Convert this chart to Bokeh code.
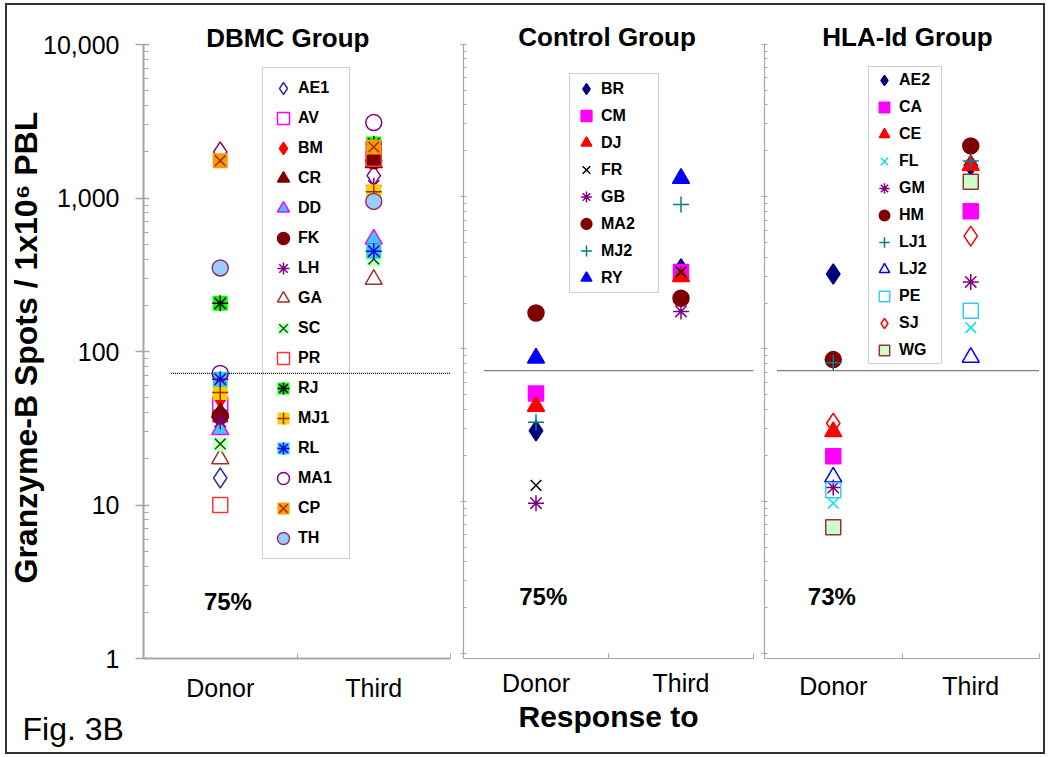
import math
from bokeh.plotting import figure
from bokeh.models import Range1d, FixedTicker, NumeralTickFormatter, Label, Legend, LegendItem, Title
from bokeh.layouts import row
from bokeh.embed import file_html
from bokeh.resources import INLINE

# ---------------- data ----------------
categories = ["Donor", "Third"]
threshold = 72
y_ticks = [1, 10, 100, 1000, 10000]
group_titles = ["DBMC Group", "Control Group", "HLA-Id Group"]
percent_labels = ["75%", "75%", "73%"]

dbmc_names = ["AE1", "AV", "BM", "CR", "DD", "FK", "LH", "GA", "SC", "PR", "RJ", "MJ1", "RL", "MA1", "CP", "TH"]
dbmc_donor = [15, 45, 50, 40, 31, 38, 35, 20, 25, 10, 206, 54, 66, 72, 1750, 350]
dbmc_third = [2150, 2100, 1850, 1700, 540, 1750, 1200, 295, 400, 1800, 2250, 1100, 450, 3100, 2150, 950]
# purple open-diamond series without a legend entry
dbmc_unlabeled_donor = 2000
dbmc_unlabeled_third = 1400

control_names = ["BR", "CM", "DJ", "FR", "GB", "MA2", "MJ2", "RY"]
control_donor = [29, 51, 42, 12.7, 9.7, 172, 33, 87]
control_third = [335, 320, 298, 320, 176, 215, 885, 1315]

hla_names = ["AE2", "CA", "CE", "FL", "GM", "HM", "LJ1", "LJ2", "PE", "SJ", "WG"]
hla_donor = [310, 19.7, 28.6, 9.7, 12.3, 85, 81, 14.4, 11.8, 32.5, 6.75]
hla_third = [1600, 800, 1600, 138, 275, 2150, 1710, 88, 178, 550, 1250]

# ---------------- styles ----------------
FONT = "Liberation Sans"
NONE = None
STYLE = {
    "AE1": [("diamond", NONE, "#333399")],
    "AV": [("square", NONE, "#ff00ff")],
    "BM": [("diamond", "#ff0000", "#ff0000")],
    "CR": [("triangle", "#800000", "#800000")],
    "DD": [("triangle", "#33ccff", "#ff00ff")],
    "FK": [("circle", "#800000", "#800000")],
    "LH": [("asterisk", NONE, "#800080")],
    "GA": [("triangle", NONE, "#993333")],
    "SC": [("square", "#ccffcc", NONE), ("x", NONE, "#006600")],
    "PR": [("square", NONE, "#ff3333")],
    "RJ": [("square", "#00ff00", NONE), ("asterisk", NONE, "#000000")],
    "MJ1": [("square", "#ffcc00", NONE), ("cross", NONE, "#993300")],
    "RL": [("square", "#33cccc", NONE), ("asterisk", NONE, "#0000ff")],
    "MA1": [("circle", NONE, "#800080")],
    "CP": [("square", "#ff9900", NONE), ("x", NONE, "#993300")],
    "TH": [("circle", "#99ccff", "#993366")],
    "_unlabeled": [("diamond", NONE, "#800080")],
    "BR": [("diamond", "#000080", "#000080")],
    "CM": [("square", "#ff00ff", "#ff00ff")],
    "DJ": [("triangle", "#ff0000", "#ff0000")],
    "FR": [("x", NONE, "#000000")],
    "GB": [("asterisk", NONE, "#800080")],
    "MA2": [("circle", "#800000", "#800000")],
    "MJ2": [("cross", NONE, "#008080")],
    "RY": [("triangle", "#0000ff", "#0000ff")],
    "AE2": [("diamond", "#000080", "#000080")],
    "CA": [("square", "#ff00ff", "#ff00ff")],
    "CE": [("triangle", "#ff0000", "#ff0000")],
    "FL": [("x", NONE, "#00e5ee")],
    "GM": [("asterisk", NONE, "#800080")],
    "HM": [("circle", "#800000", "#800000")],
    "LJ1": [("cross", NONE, "#008080")],
    "LJ2": [("triangle", NONE, "#0000ff")],
    "PE": [("square", NONE, "#33ccff")],
    "SJ": [("diamond", NONE, "#ff0000")],
    "WG": [("square", "#ccffcc", "#993333")],
}
SIZES = {"diamond": 20, "square": 15, "triangle": 17, "circle": 16, "x": 15, "asterisk": 16, "cross": 16}

# ---------------- layout helpers ----------------
H = 747
PX_DEC = 153.5          # pixels per decade
REF_ONE = 658           # reference row of value 1
REF_TOP = 5             # reference row of the frame top


def level(ref_row):
    return 10 ** ((REF_ONE - ref_row) / PX_DEC)


Y_TOP = level(REF_TOP)
xpos = [i + 0.5 for i in range(len(categories))]


def make_panel(width, bl, br, bb, y_start, labelled):
    p = figure(width=width, height=H, x_range=Range1d(0, len(categories)),
               y_range=Range1d(y_start, Y_TOP), y_axis_type="log",
               output_backend="svg", toolbar_location=None,
               min_border_left=bl, min_border_right=br, min_border_top=0, min_border_bottom=bb,
               background_fill_color="white", border_fill_color="white")
    p.outline_line_color = None
    p.xgrid.visible = False
    p.ygrid.visible = False
    ya = p.yaxis[0]
    ya.ticker = FixedTicker(ticks=y_ticks,
                            minor_ticks=[m * 10 ** k for k in range(4) for m in range(2, 10)])
    ya.bounds = (y_start, 10000)
    ya.axis_line_color = "#a6a6a6"
    ya.major_tick_line_color = "#a6a6a6"
    ya.minor_tick_line_color = "#a6a6a6"
    if labelled:
        ya.formatter = NumeralTickFormatter(format="0,0")
        ya.axis_line_width = 2
        ya.major_tick_line_width = 1.5
        ya.major_tick_out = 8
        ya.major_tick_in = 6
        ya.minor_tick_in = 5
        ya.minor_tick_out = 0
        ya.major_label_standoff = 16
        ya.major_label_text_font = FONT
        ya.major_label_text_font_size = "25px"
        ya.major_label_text_color = "black"
    else:
        ya.axis_line_width = 1.2
        ya.major_tick_out = 3
        ya.major_tick_in = 3
        ya.minor_tick_in = 3
        ya.minor_tick_out = 0
        ya.major_label_standoff = 0
        ya.major_label_overrides = {t: "" for t in y_ticks}
    xa = p.xaxis[0]
    xa.ticker = FixedTicker(ticks=xpos, minor_ticks=list(range(len(categories) + 1)))
    xa.major_label_overrides = {x: c for x, c in zip(xpos, categories)}
    xa.bounds = (0, len(categories))
    xa.axis_line_color = "#a6a6a6"
    xa.axis_line_width = 2 if labelled else 1.2
    xa.major_tick_in = 0
    xa.major_tick_out = 0
    xa.minor_tick_in = 5
    xa.minor_tick_out = 0
    xa.minor_tick_line_color = "#a6a6a6"
    xa.major_label_text_font = FONT
    xa.major_label_text_font_size = "25px"
    xa.major_label_text_color = "black"
    return p


def add_series(p, name, donor, third):
    rs = []
    for marker, fill, line in STYLE[name]:
        kw = dict(size=SIZES[marker], line_width=1.5)
        if fill is None:
            kw["fill_alpha"] = 0
            kw["fill_color"] = "white"
        else:
            kw["fill_color"] = fill
        if line is None:
            kw["line_alpha"] = 0
            kw["line_color"] = fill
        else:
            kw["line_color"] = line
        rs.append(p.scatter(x=xpos, y=[donor, third], marker=marker, **kw))
    return rs


def add_group(p, names, donor, third, legend_cfg, title, title_x, pct, pct_x, thr_x0):
    p.segment(x0=[thr_x0], y0=[threshold], x1=[len(categories)], y1=[threshold],
              line_color="black", line_width=1.4, line_dash="1 1")
    items = []
    for n, d, t in zip(names, donor, third):
        items.append(LegendItem(label=n, renderers=add_series(p, n, d, t)))
    loc, gh, sp, pad, lw = legend_cfg
    leg = Legend(items=items, location=loc, orientation="vertical",
                 label_text_font=FONT, label_text_font_style="bold", label_text_font_size="16px",
                 label_text_color="black",
                 label_height=gh, glyph_height=gh, glyph_width=30, label_width=lw,
                 label_standoff=0, spacing=sp, padding=pad, margin=0,
                 border_line_color="#a0a0a0", border_line_width=1.5,
                 background_fill_alpha=0)
    p.add_layout(leg)
    p.add_layout(Label(x=title_x, y=level(37), text=title, text_font=FONT,
                       text_font_style="bold", text_font_size="26px",
                       text_align="center", text_baseline="middle", text_color="black"))
    p.add_layout(Label(x=pct_x, y=level(601), text=pct, text_font=FONT,
                       text_font_style="bold", text_font_size="24px",
                       text_align="center", text_baseline="middle", text_color="black"))


# ---------------- panels ----------------
y_low = level(663)

p1 = make_panel(449, 136, 6, 94, 1, True)
p1.xaxis[0].major_label_standoff = 15
add_series(p1, "_unlabeled", dbmc_unlabeled_donor, dbmc_unlabeled_third)
add_group(p1, dbmc_names, dbmc_donor, dbmc_third, ((119, 99), 30, 0, 5, 46),
          group_titles[0], 0.94, percent_labels[0], 0.55, 0.18)
p1.add_layout(Title(text="Granzyme-B Spots / 1x10\u2076 PBL", align="left", offset=75,
                    standoff=-6, text_font=FONT, text_font_style="bold",
                    text_font_size="32px", text_color="black"), "left")
p1.add_layout(Title(text="Fig. 3B", align="left", offset=-121, standoff=8,
                    text_font=FONT, text_font_style="normal",
                    text_font_size="32px", text_color="black"), "below")

p2 = make_panel(302, 7, 5, 89, y_low, False)
xa2 = p2.xaxis[0]
xa2.major_label_standoff = 10
xa2.axis_label = "Response to"
xa2.axis_label_standoff = 0
xa2.axis_label_text_font = FONT
xa2.axis_label_text_font_style = "bold"
xa2.axis_label_text_font_size = "30px"
xa2.axis_label_text_color = "black"
add_group(p2, control_names, control_donor, control_third, ((106, 365), 27, 0, 1, 56),
          group_titles[1], 0.99, percent_labels[1], 0.55, 0.145)

p3 = make_panel(285, 6, 4, 89, y_low, False)
p3.xaxis[0].major_label_standoff = 13
add_group(p3, hla_names, hla_donor, hla_third, ((104, 294), 26, 1, 0, 42),
          group_titles[2], 1.04, percent_labels[2], 0.49, 0.094)

layout = row(p1, p2, p3, spacing=0,
             styles={"border": "2px solid #333333", "margin-left": "5px", "margin-top": "3px"})

open("out.html", "w").write(file_html(layout, INLINE))
